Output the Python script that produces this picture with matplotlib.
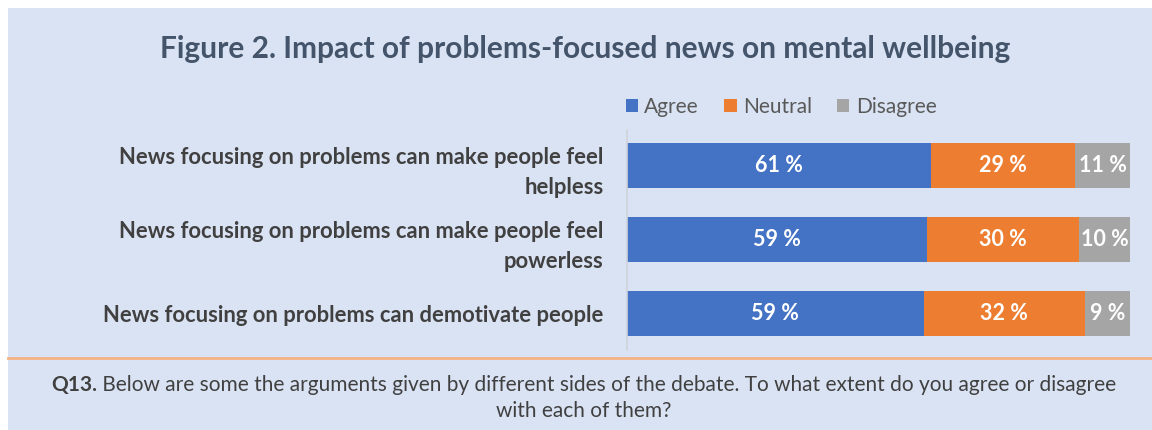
import matplotlib
matplotlib.use("Agg")
import matplotlib.pyplot as plt
from matplotlib.patches import Rectangle
import numpy as np

categories = [
    "News focusing on problems can make people feel\nhelpless",
    "News focusing on problems can make people feel\npowerless",
    "News focusing on problems can demotivate people",
]
series_names = ["Agree", "Neutral", "Disagree"]
agree = [61, 59, 59]
neutral = [29, 30, 32]
disagree = [11, 10, 9]
colors = ["#4472C4", "#ED7D31", "#A5A5A5"]

title = "Figure 2. Impact of problems-focused news on mental wellbeing"
footer_bold = "Q13."
footer_rest = " Below are some the arguments given by different sides of the debate. To what extent do you agree or disagree"
footer_line2 = "with each of them?"

FONT = "Lato"
W, H = 1152, 430
fig = plt.figure(figsize=(W / 100, H / 100), dpi=100)
fig.patch.set_facecolor("white")
bg = "#DAE3F3"
fig.patches.append(Rectangle((8 / W, 0), 1 - 8 / W, 1 - 8 / H, transform=fig.transFigure,
                             facecolor=bg, edgecolor="none", zorder=-10))

def fx(px):
    return px / W

def fy(py):
    return 1 - py / H

# title
fig.text(fx(585), fy(49), title, ha="center", va="center", fontsize=21.5,
         fontweight="bold", color="#44546A", family=FONT)

# axes
ax = fig.add_axes([fx(627), fy(350), fx(1130) - fx(627), (350 - 130) / H])
ax.set_facecolor("none")
data = np.array([agree, neutral, disagree], dtype=float)
totals = data.sum(axis=0)
share = data / totals * 100
y = np.arange(len(categories))
left = np.zeros(len(categories))
for i, name in enumerate(series_names):
    bars = ax.barh(y, share[i], left=left, height=0.61, color=colors[i], label=name,
                   edgecolor="none")
    for j, b in enumerate(bars):
        ax.text(left[j] + share[i][j] / 2, y[j], f"{int(data[i][j])} %", ha="center",
                va="center", color="white", fontsize=15.5, fontweight="bold", family=FONT)
    left += share[i]
ax.set_xlim(0, 100)
ax.set_ylim(2.49, -0.48)
for s in ["top", "right", "bottom"]:
    ax.spines[s].set_visible(False)
ax.spines["left"].set_color("#D0D4DA")
ax.spines["left"].set_linewidth(1.2)
ax.set_xticks([])
ax.set_yticks(y)
ax.set_yticklabels(categories, fontsize=15.8, fontweight="bold", color="#404040",
                   family=FONT, linespacing=1.55)
ax.tick_params(axis="y", length=0, pad=17)

# legend
leg = fig.legend(handles=ax.get_legend_handles_labels()[0], labels=series_names,
                 loc="center", bbox_to_anchor=(fx(781), fy(107)), ncol=3, frameon=False,
                 prop={"family": FONT, "size": 15}, handlelength=0.6, handleheight=0.6,
                 handletextpad=0.3, columnspacing=1.2, labelcolor="#595959")

# divider line
fig.add_artist(plt.Line2D([fx(8), 1], [fy(358), fy(358)], transform=fig.transFigure,
                          color="#F4B183", linewidth=2))

# footer
fig.canvas.draw()
r = fig.canvas.get_renderer()
tb = fig.text(0, fy(385), footer_bold, ha="left", va="center", fontsize=15,
              fontweight="bold", color="#404040", family=FONT)
tr = fig.text(0, fy(385), footer_rest, ha="left", va="center", fontsize=15,
              color="#404040", family=FONT)
wb = tb.get_window_extent(r).width
wr = tr.get_window_extent(r).width
total = wb + wr
x0 = fx(584) - (total / W) / 2
tb.set_x(x0)
tr.set_x(x0 + wb / W)
fig.text(fx(584), fy(411), footer_line2, ha="center", va="center", fontsize=15,
         color="#404040", family=FONT)

fig.savefig("out.png", dpi=100, facecolor=fig.get_facecolor())
